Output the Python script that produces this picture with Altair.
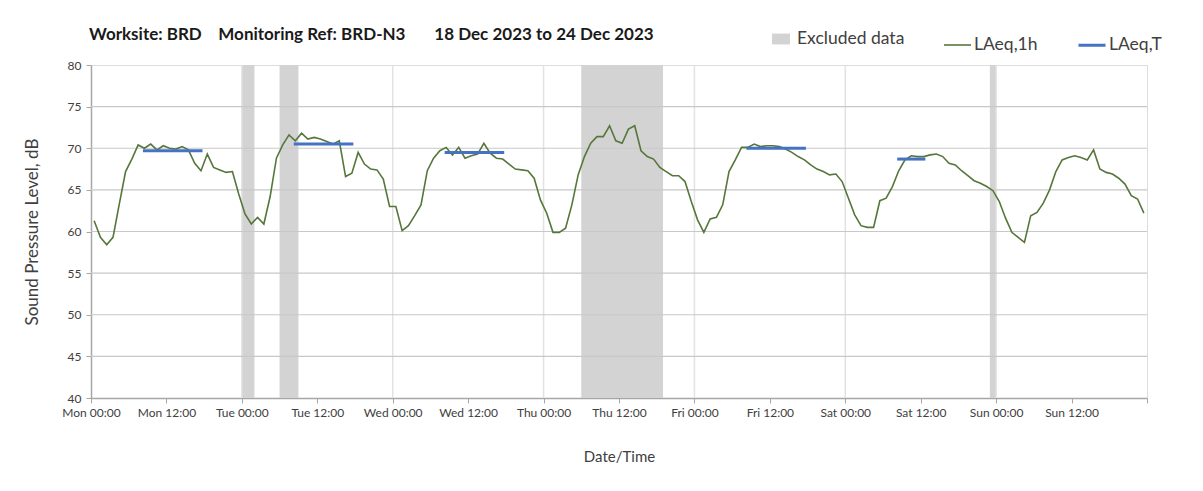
import altair as alt
import pandas as pd

# ---- data ----
# hourly LAeq,1h values, one per hour starting Mon 00:00 (plotted at hour mid-point)
laeq_1h = [
    61.3, 59.3, 58.4, 59.3, 63.3, 67.2, 68.7, 70.4, 70.0, 70.5, 69.8, 70.3,
    70.0, 69.9, 70.2, 69.8, 68.2, 67.3, 69.3, 67.7, 67.4, 67.1, 67.2, 64.5,
    62.1, 60.9, 61.7, 60.9, 64.2, 68.8, 70.4, 71.6, 70.9, 71.8, 71.1, 71.3,
    71.1, 70.8, 70.5, 70.9, 66.6, 67.0, 69.5, 68.1, 67.5, 67.4, 66.3, 63.0,
    63.0, 60.1, 60.7, 61.9, 63.2, 67.3, 68.8, 69.7, 70.1, 69.2, 70.1, 68.8,
    69.1, 69.3, 70.6, 69.4, 68.8, 68.7, 68.1, 67.5, 67.4, 67.3, 66.4, 63.8,
    62.2, 59.9, 59.9, 60.4, 63.2, 66.8, 69.0, 70.6, 71.4, 71.4, 72.7, 70.9,
    70.6, 72.3, 72.7, 69.7, 69.0, 68.7, 67.7, 67.2, 66.7, 66.7, 66.0, 63.6,
    61.4, 59.9, 61.5, 61.7, 63.2, 67.2, 68.6, 70.1, 70.1, 70.5, 70.2, 70.3,
    70.3, 70.2, 69.9, 69.5, 69.0, 68.6, 68.0, 67.5, 67.2, 66.8, 66.9, 66.0,
    64.0, 62.0, 60.7, 60.5, 60.5, 63.7, 64.0, 65.4, 67.3, 68.6, 69.1, 69.0,
    69.0, 69.2, 69.3, 69.0, 68.2, 68.0, 67.3, 66.7, 66.1, 65.8, 65.4, 64.9,
    63.6, 61.6, 59.9, 59.3, 58.7, 61.9, 62.3, 63.4, 65.0, 67.2, 68.6, 68.9,
    69.1, 68.9, 68.6, 69.8, 67.5, 67.1, 66.9, 66.4, 65.7, 64.3, 63.9, 62.2,
]

# excluded periods (hours from Mon 00:00)
excl_start = [24, 30, 78, 143]
excl_end = [26, 33, 91, 144]

# LAeq,T periods (hours from Mon 00:00) and levels
t_start = [8.5, 32.5, 56.5, 104.5, 128.5]
t_end = [17.5, 41.5, 65.5, 113.5, 132.5]
t_value = [69.7, 70.5, 69.5, 70.0, 68.7]

day_names = ["Mon", "Tue", "Wed", "Thu", "Fri", "Sat", "Sun"]
x_ticks = list(range(0, 169, 12))
y_ticks = list(range(40, 81, 5))
day_lines = [24, 48, 72, 96, 120, 144]
grid_y = [45, 50, 55, 60, 65, 70, 75]

title_text = ("Worksite: BRD\u00a0\u00a0\u00a0\u00a0Monitoring Ref: BRD-N3"
              "\u00a0\u00a0\u00a0\u00a0\u00a0\u00a0\u00a018 Dec 2023 to 24 Dec 2023")

# ---- tables ----
df_line = pd.DataFrame({
    "hour": [i + 0.5 for i in range(len(laeq_1h))],
    "level": laeq_1h,
    "series": "LAeq,1h",
})
df_excl = pd.DataFrame({"hour": excl_start, "hour2": excl_end,
                        "lo": 40, "hi": 80, "kind": "Excluded data"})
df_t = pd.DataFrame({"hour": t_start, "hour2": t_end, "level": t_value,
                     "series": "LAeq,T"})
df_days = pd.DataFrame({"hour": day_lines})
df_grid = pd.DataFrame({"level": grid_y})

FONT = "Lato"
TXT = "#404040"
AXC = "#a6a6a6"

label_expr = ("datum.value >= 168 ? '' : ['Mon','Tue','Wed','Thu','Fri','Sat','Sun']"
              "[floor(datum.value/24)] + (datum.value % 24 == 0 ? ' 00:00' : ' 12:00')")

x_scale = alt.Scale(domain=[0, 168], nice=False, zero=False)
y_scale = alt.Scale(domain=[40, 80], nice=False, zero=False)

x_axis = alt.Axis(values=x_ticks, labelExpr=label_expr, title="Date/Time",
                  grid=False, labelFontSize=12, labelColor=TXT, labelFont=FONT,
                  tickColor=AXC, tickSize=5, domainColor=AXC, domainWidth=1.5,
                  labelPadding=4, labelFlush=False, labelOverlap=False,
                  titleFont=FONT, titleFontSize=15, titleFontWeight="normal",
                  titleColor=TXT, titlePadding=31)
y_axis = alt.Axis(values=y_ticks, title="Sound Pressure Level, dB", grid=False,
                  labelFontSize=12, labelColor=TXT, labelFont=FONT,
                  tickColor=AXC, tickSize=5, domainColor=AXC, domainWidth=1.5,
                  labelPadding=5, titleFont=FONT, titleFontSize=17,
                  titleFontWeight="normal", titleColor=TXT, titlePadding=26)

def X(field):
    return alt.X(f"{field}:Q", scale=x_scale, axis=x_axis)

def Y(field):
    return alt.Y(f"{field}:Q", scale=y_scale, axis=y_axis)

bands = alt.Chart(df_excl).mark_rect(opacity=1).encode(
    x=X("hour"), x2="hour2", y=Y("lo"), y2="hi",
    fill=alt.Fill("kind:N", scale=alt.Scale(domain=["Excluded data"], range=["#d3d3d3"]),
                  legend=alt.Legend(orient="none", legendX=681, legendY=-35, title=None,
                                    symbolType="M-1,-0.6H1V0.6H-1Z", symbolSize=324,
                                    symbolStrokeWidth=0, labelFontSize=17.5,
                                    labelFont=FONT, labelColor=TXT, labelOffset=7)),
)

vgrid = alt.Chart(df_days).mark_rule(color="#e2e2e2", strokeWidth=1.5).encode(
    x=X("hour"))

hgrid = alt.Chart(df_grid).mark_rule(color="#c8c8c8", strokeWidth=1.2).encode(
    y=Y("level"))

series_domain = ["LAeq,1h", "LAeq,T"]
stroke_scale = alt.Scale(domain=series_domain, range=["#56763a", "#4472c4"])
width_scale = alt.Scale(domain=series_domain, range=[1.6, 3])
leg = alt.Legend(orient="none", legendX=852, legendY=-35, title=None,
                 direction="horizontal", symbolType="stroke", symbolSize=729,
                 labelFontSize=17.5, labelFont=FONT, labelColor=TXT,
                 labelOffset=2, columnPadding=34)

line = alt.Chart(df_line).mark_line().encode(
    x=X("hour"), y=Y("level"),
    stroke=alt.Stroke("series:N", scale=stroke_scale, legend=leg),
    strokeWidth=alt.StrokeWidth("series:N", scale=width_scale, legend=leg),
)

tlines = alt.Chart(df_t).mark_rule(strokeCap="square").encode(
    x=X("hour"), x2="hour2", y=Y("level"),
    stroke=alt.Stroke("series:N", scale=stroke_scale, legend=leg),
    strokeWidth=alt.StrokeWidth("series:N", scale=width_scale, legend=leg),
)

chart = alt.layer(bands, vgrid, hgrid, line, tlines).properties(
    width=1056, height=333,
    autosize=alt.AutoSizeParams(type="none"),
    padding={"left": 83, "top": 57, "right": 40, "bottom": 80},
    title=alt.TitleParams(title_text, anchor="start", font=FONT, fontSize=17,
                          fontWeight="bold", color="#1a1a1a", offset=-14, dx=66),
).configure_view(stroke="#bfbfbf", strokeWidth=1.2).configure(background="white")

chart.save("out.html", embed_options={"renderer": "svg", "actions": False})
